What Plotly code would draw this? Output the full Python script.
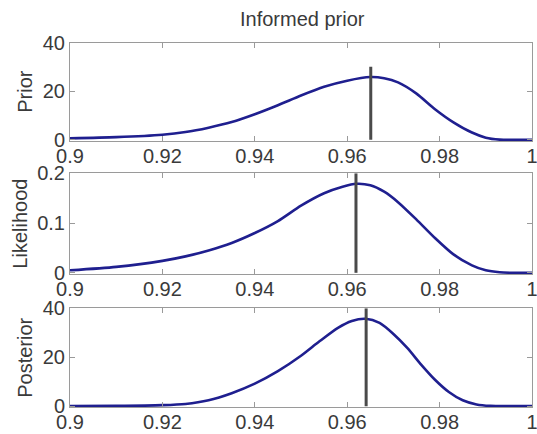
import plotly.graph_objects as go

# ---------------- data ----------------
x_prior = [0.900, 0.910, 0.920, 0.925, 0.930, 0.935, 0.940, 0.945, 0.950, 0.955, 0.960,
           0.965, 0.968, 0.971, 0.975, 0.979, 0.983, 0.987, 0.990, 0.993, 0.996, 1.000]
y_prior = [0.6, 1.1, 2.1, 3.2, 5.0, 7.3, 10.5, 14.2, 18.2, 21.8, 24.3,
           25.8, 25.3, 23.6, 19.0, 12.6, 7.2, 3.0, 0.9, 0.1, 0.0, 0.0]

x_like = [0.900, 0.910, 0.920, 0.925, 0.930, 0.935, 0.940, 0.945, 0.950, 0.955, 0.959,
          0.962, 0.965, 0.968, 0.971, 0.975, 0.979, 0.983, 0.987, 0.990, 0.993, 0.996, 1.000]
y_like = [0.005, 0.012, 0.024, 0.033, 0.045, 0.060, 0.080, 0.104, 0.135, 0.160, 0.173,
          0.179, 0.176, 0.163, 0.142, 0.107, 0.070, 0.037, 0.015, 0.005, 0.001, 0.0, 0.0]

x_post = [0.900, 0.910, 0.920, 0.925, 0.930, 0.935, 0.940, 0.945, 0.950, 0.954, 0.958,
          0.961, 0.964, 0.967, 0.970, 0.973, 0.976, 0.979, 0.982, 0.985, 0.988, 0.991, 0.995, 1.000]
y_post = [0.03, 0.1, 0.4, 0.9, 2.4, 5.3, 9.2, 14.3, 20.6, 26.5, 32.0,
          34.8, 35.7, 34.0, 29.5, 23.8, 17.0, 10.8, 5.8, 2.4, 0.7, 0.1, 0.0, 0.0]

marker_x = [0.9651, 0.9619, 0.9641]
marker_top = [30, 0.2, 40]

panel_labels = ["Prior", "Likelihood", "Posterior"]
y_ranges = [[0, 40], [0, 0.2], [0, 40]]
y_tickvals = [[0, 20, 40], [0, 0.1, 0.2], [0, 20, 40]]
y_ticktext = [["0", "20", "40"], ["0", "0.1", "0.2"], ["0", "20", "40"]]
x_tickvals = [0.9, 0.92, 0.94, 0.96, 0.98, 1.0]
x_ticktext = ["0.9", "0.92", "0.94", "0.96", "0.98", "1"]
title_text = "Informed prior"

# ---------------- layout geometry ----------------
W, H = 537, 434
x_px = (70, 532)
panels_px = [(42.5, 141.0), (173.3, 274.0), (308.3, 407.3)]
label_x_px = [25, 20, 25]

curve_color = "#1f1f8f"
vline_color = "#4a4a4a"
axis_color = "#9a9a9a"
text_color = "#3a3a3a"
font_family = "Liberation Sans, Arial, sans-serif"

fig = go.Figure()
series = [(x_prior, y_prior), (x_like, y_like), (x_post, y_post)]

layout = dict(
    width=W, height=H, autosize=False,
    margin=dict(l=0, r=0, t=0, b=0, pad=0, autoexpand=False),
    paper_bgcolor="white", plot_bgcolor="white",
    showlegend=False,
    font=dict(family=font_family, size=20, color=text_color),
    annotations=[],
)

for i, ((xs, ys), (top, bot)) in enumerate(zip(series, panels_px)):
    n = "" if i == 0 else str(i + 1)
    xa, ya = "x" + n, "y" + n
    fig.add_trace(go.Scatter(x=xs, y=ys, mode="lines", xaxis=xa, yaxis=ya,
                             line=dict(color=curve_color, width=2.6, shape="spline", smoothing=0.7),
                             hoverinfo="skip"))
    fig.add_trace(go.Scatter(x=[marker_x[i], marker_x[i]], y=[0, marker_top[i]], mode="lines",
                             xaxis=xa, yaxis=ya,
                             line=dict(color=vline_color, width=3), hoverinfo="skip"))
    lo, hi = y_ranges[i]
    pad = (hi - lo) * 0.012
    layout["xaxis" + n] = dict(
        domain=[x_px[0] / W, x_px[1] / W], anchor=ya, range=[0.9, 1.0],
        tickvals=x_tickvals, ticktext=x_ticktext,
        ticks="inside", ticklen=5, tickcolor=axis_color,
        showline=True, linecolor=axis_color, linewidth=1, mirror="ticks",
        showgrid=False, zeroline=False, automargin=False, ticklabeloverflow="allow",
        ticklabelstandoff=-3,
        tickfont=dict(size=20, color=text_color, family=font_family),
    )
    layout["yaxis" + n] = dict(
        domain=[1 - bot / H, 1 - top / H], anchor=xa, range=[lo - pad, hi],
        tickvals=y_tickvals[i], ticktext=y_ticktext[i],
        ticks="inside", ticklen=5, tickcolor=axis_color,
        showline=True, linecolor=axis_color, linewidth=1, mirror="ticks",
        showgrid=False, zeroline=False, automargin=False, ticklabeloverflow="allow",
        tickfont=dict(size=20, color=text_color, family=font_family),
    )
    layout["annotations"].append(dict(
        text=panel_labels[i], xref="paper", yref="paper",
        x=label_x_px[i] / W, y=1 - (top + bot) / 2 / H,
        textangle=-90, showarrow=False, xanchor="center", yanchor="middle",
        font=dict(size=20, color=text_color, family=font_family),
    ))

layout["annotations"].append(dict(
    text=title_text, xref="paper", yref="paper", x=302 / W, y=1 - 19 / H,
    showarrow=False, xanchor="center", yanchor="middle",
    font=dict(size=20, color=text_color, family=font_family),
))

fig.update_layout(**layout)
fig.write_html("out.html")
